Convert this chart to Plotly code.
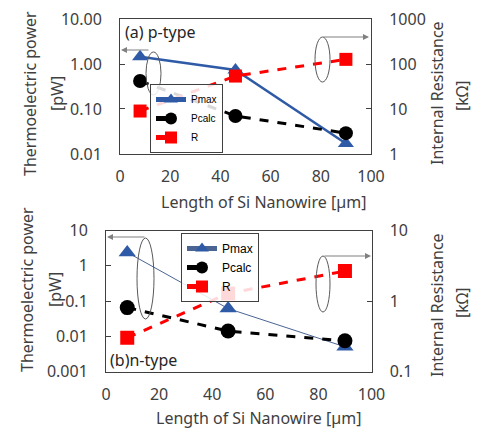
import plotly.graph_objects as go

# The page body has an 8px default margin, so the figure is placed at (8, 8)
OFF = 8
W, H = 482 - OFF, 430 - OFF
EPS = 0.002

length = [8, 46, 90]
p_pmax = [1.45, 0.74, 0.017]
p_pcalc = [0.42, 0.07, 0.029]
p_r = [9.0, 54, 127]
n_pmax = [2.4, 0.061, 0.005]
n_pcalc = [0.065, 0.014, 0.0074]
n_r = [0.30, 1.28, 2.66]

x_ticks = [0, 20, 40, 60, 80, 100]
p_left_vals = [0.01, 0.1, 1, 10]
p_left_text = ["0.01", "0.10", "1.00", "10.00"]
p_right_vals = [1, 10, 100, 1000]
p_right_text = ["1", "10", "100", "1000"]
n_left_vals = [0.001, 0.01, 0.1, 1, 10]
n_left_text = ["0.001", "0.01", "0.1", "1", "10"]
n_right_vals = [0.1, 1, 10]
n_right_text = ["0.1", "1", "10"]

FONT = "Noto Sans"
TXT = "#404040"
BORDER = "#404040"
BLUE = "#2F5AA6"
RED = "#FF0000"


def px(x):
    return (x - OFF) / W


def py(y):
    return 1 - (y - OFF) / H


fig = go.Figure()

# top panel
fig.add_trace(go.Scatter(x=length, y=p_pmax, name="Pmax", mode="lines+markers",
                         line=dict(color=BLUE, width=2.5),
                         marker=dict(symbol="triangle-up", size=14, color=BLUE),
                         xaxis="x", yaxis="y", legend="legend"))
fig.add_trace(go.Scatter(x=length, y=p_pcalc, name="Pcalc", mode="lines+markers",
                         line=dict(color="black", width=3, dash="dash"),
                         marker=dict(symbol="circle", size=14, color="black"),
                         xaxis="x", yaxis="y", legend="legend"))
fig.add_trace(go.Scatter(x=length, y=p_r, name="R", mode="lines+markers",
                         line=dict(color=RED, width=3, dash="dash"),
                         marker=dict(symbol="square", size=13, color=RED),
                         xaxis="x", yaxis="y2", legend="legend"))

# bottom panel
fig.add_trace(go.Scatter(x=length, y=n_pmax, name="Pmax", mode="lines+markers",
                         line=dict(color="#4A6494", width=1),
                         marker=dict(symbol="triangle-up", size=15, color=BLUE),
                         xaxis="x2", yaxis="y3", legend="legend2"))
fig.add_trace(go.Scatter(x=length, y=n_pcalc, name="Pcalc", mode="lines+markers",
                         line=dict(color="black", width=3, dash="dash"),
                         marker=dict(symbol="circle", size=15, color="black"),
                         xaxis="x2", yaxis="y3", legend="legend2"))
fig.add_trace(go.Scatter(x=length, y=n_r, name="R", mode="lines+markers",
                         line=dict(color=RED, width=3, dash="dash"),
                         marker=dict(symbol="square", size=14, color=RED),
                         xaxis="x2", yaxis="y4", legend="legend2"))

tickfont = dict(family=FONT, size=16, color=TXT)

xcommon = dict(range=[0, 100], tickvals=x_ticks, showgrid=False, zeroline=False,
               showline=True, linecolor=BORDER, linewidth=1, mirror=True,
               ticks="", tickfont=tickfont, ticklabelstandoff=8, automargin=False,
               ticklabeloverflow="allow")
ycommon = dict(type="log", showgrid=False, zeroline=False, showline=True,
               linecolor=BORDER, linewidth=1, ticks="inside", ticklen=5,
               tickcolor=BORDER, tickfont=tickfont, ticklabelstandoff=14,
               automargin=False, ticklabeloverflow="allow")

fig.update_layout(
    template="none",
    width=W, height=H,
    margin=dict(l=0, r=0, t=0, b=0, autoexpand=False),
    paper_bgcolor="white", plot_bgcolor="white",
    font=dict(family=FONT, color=TXT),
    xaxis=dict(domain=[px(120), px(371)], anchor="y", **xcommon),
    yaxis=dict(domain=[py(154), py(19)], anchor="x", range=[-2 - EPS, 1 + EPS],
               tickvals=p_left_vals, ticktext=p_left_text, mirror=True, **ycommon),
    yaxis2=dict(overlaying="y", side="right", anchor="x", range=[0 - EPS, 3 + EPS],
                tickvals=p_right_vals, ticktext=p_right_text, **ycommon),
    xaxis2=dict(domain=[px(106), px(371.5)], anchor="y3", **xcommon),
    yaxis3=dict(domain=[py(371.5), py(230.5)], anchor="x2", range=[-3 - EPS, 1 + EPS],
                tickvals=n_left_vals, ticktext=n_left_text, mirror=True, **ycommon),
    yaxis4=dict(overlaying="y3", side="right", anchor="x2", range=[-1 - EPS, 1 + EPS],
                tickvals=n_right_vals, ticktext=n_right_text, **ycommon),
    legend=dict(x=px(150), y=py(153), xanchor="left", yanchor="bottom",
                bgcolor="rgba(255,255,255,0.85)", bordercolor=BORDER, borderwidth=1,
                font=dict(family="Liberation Sans", size=10, color="black"),
                itemwidth=30, tracegroupgap=0, itemsizing="constant"),
    legend2=dict(x=px(181), y=py(233), xanchor="left", yanchor="top",
                 bgcolor="rgba(255,255,255,0.85)", bordercolor=BORDER, borderwidth=1,
                 font=dict(family="Liberation Sans", size=12, color="black"),
                 itemwidth=30, tracegroupgap=0, itemsizing="constant"),
    showlegend=True,
)

titlefont = dict(family=FONT, size=16, color=TXT)
annots = [
    dict(text="Thermoelectric power", x=px(30), y=py(94), textangle=-90),
    dict(text="[pW]", x=px(57), y=py(94), textangle=-90),
    dict(text="Internal Resistance", x=px(437), y=py(93), textangle=-90),
    dict(text="[kΩ]", x=px(462), y=py(96), textangle=-90),
    dict(text="Length of Si Nanowire [µm]", x=px(263), y=py(202), textangle=0),
    dict(text="Thermoelectric power", x=px(27), y=py(290), textangle=-90),
    dict(text="[pW]", x=px(55), y=py(290), textangle=-90),
    dict(text="Internal Resistance", x=px(437), y=py(305), textangle=-90),
    dict(text="[kΩ]", x=px(462), y=py(303), textangle=-90),
    dict(text="Length of Si Nanowire [µm]", x=px(258), y=py(418), textangle=0),
]
for a in annots:
    fig.add_annotation(xref="paper", yref="paper", showarrow=False,
                       xanchor="center", yanchor="middle", font=titlefont, **a)

fig.add_annotation(text="(a) p-type", xref="paper", yref="paper", x=px(123), y=py(32),
                   xanchor="left", yanchor="middle", showarrow=False,
                   font=dict(family=FONT, size=16, color="#262626"))
fig.add_annotation(text="(b)n-type", xref="paper", yref="paper", x=px(108), y=py(360),
                   xanchor="left", yanchor="middle", showarrow=False,
                   font=dict(family=FONT, size=16, color="#262626"))

# ellipses
GREY = "#595959"
for (x0, y0, x1, y1) in [(146, 52, 161, 95), (315, 37, 330, 82),
                         (137, 238, 154, 319), (316, 256, 330, 312)]:
    fig.add_shape(type="circle", xref="paper", yref="paper",
                  x0=px(x0), x1=px(x1), y0=py(y1), y1=py(y0),
                  line=dict(color=GREY, width=1))

# arrows
for (hx, hy, tx, ty) in [(121, 50, 150, 50), (369, 37, 322, 37),
                         (107, 237, 146, 237), (371, 256, 323, 256)]:
    fig.add_annotation(xref="paper", yref="paper", x=px(hx), y=py(hy),
                       ax=tx - hx, ay=ty - hy, text="", showarrow=True,
                       arrowhead=2, arrowsize=1, arrowwidth=1.2, arrowcolor="#808080")

fig.write_html("out.html")
